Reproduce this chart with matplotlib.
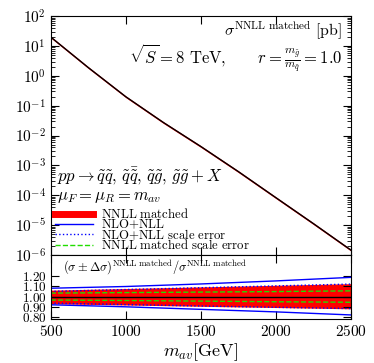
import numpy as np
import matplotlib
matplotlib.use('Agg')
import matplotlib.pyplot as plt
from matplotlib.lines import Line2D
from matplotlib.ticker import FuncFormatter, FixedLocator, LogLocator

plt.rcParams['mathtext.fontset'] = 'cm'
plt.rcParams['font.family'] = 'DejaVu Serif'

# cross section (pb)
m_av = [500, 750, 1000, 1250, 1500, 1750, 2000, 2250, 2500]
sigma = [20, 1.9, 0.20, 0.0275, 0.0043, 6.2e-4, 8.3e-5, 1.12e-5, 1.45e-6]

# ratio panel
m_r = [500, 1000, 1500, 2000, 2500]
red_hi = [1.064, 1.080, 1.096, 1.112, 1.128]
red_lo = [0.930, 0.918, 0.905, 0.893, 0.880]
dot_hi = [1.052, 1.070, 1.088, 1.106, 1.124]
dot_lo = [0.936, 0.922, 0.908, 0.895, 0.883]
grn_hi = [1.035, 1.040, 1.045, 1.050, 1.057]
grn_lo = [0.967, 0.962, 0.956, 0.950, 0.945]
blu_hi = [1.083, 1.100, 1.125, 1.155, 1.190]
blu_lo = [0.920, 0.900, 0.875, 0.850, 0.820]

fig = plt.figure(figsize=(3.74, 3.63), dpi=100)
ax = fig.add_axes([0.1356, 0.2975, 0.803, 0.658])
axr = fig.add_axes([0.1356, 0.1212, 0.803, 0.1763], sharex=ax)

s = np.array(sigma)
ax.fill_between(m_av, s * 0.93, s * 1.07, color='red', lw=0)
ax.plot(m_av, s, color='black', lw=1)
ax.set_yscale('log')
ax.set_xlim(500, 2500)
ax.set_ylim(1e-6, 1e2)
ax.yaxis.set_major_locator(LogLocator(base=10, numticks=20))
ax.yaxis.set_minor_locator(LogLocator(base=10, subs=np.arange(2, 10), numticks=20))
ax.yaxis.set_major_formatter(FuncFormatter(lambda v, p: r'$10^{%d}$' % round(np.log10(v))))
ax.tick_params(which='both', direction='in', top=True, right=True, labelbottom=False, labelsize=11)
ax.tick_params(which='major', length=6)
ax.tick_params(which='minor', length=3)

ax.text(0.97, 0.94, r'$\sigma^{\rm NNLL\ matched}\ [\mathrm{pb}]$', transform=ax.transAxes,
        ha='right', va='center', fontsize=11.5)
ax.text(0.97, 0.82, r'$\sqrt{S} = 8\ \mathrm{TeV},\qquad r = \frac{m_{\tilde g}}{m_{\tilde q}} = 1.0$',
        transform=ax.transAxes, ha='right', va='center', fontsize=12)
ax.text(0.02, 0.33, r'$pp \to \tilde q\tilde q,\, \tilde q\bar{\tilde q},\, \tilde q\tilde g,\, \tilde g\tilde g + X$',
        transform=ax.transAxes, ha='left', va='center', fontsize=12)
ax.text(0.02, 0.245, r'$\mu_F = \mu_R = m_{av}$', transform=ax.transAxes,
        ha='left', va='center', fontsize=12)

handles = [Line2D([], [], color='red', lw=5),
           Line2D([], [], color='blue', lw=1),
           Line2D([], [], color='blue', lw=1, ls=':'),
           Line2D([], [], color='#22dd00', lw=1, ls='--')]
labels = [r'$\mathrm{NNLL\ matched}$', r'$\mathrm{NLO{+}NLL}$',
          r'$\mathrm{NLO{+}NLL\ scale\ error}$', r'$\mathrm{NNLL\ matched\ scale\ error}$']
ax.legend(handles, labels, loc='upper left', bbox_to_anchor=(0.0, 0.215), frameon=False,
          fontsize=9.2, handlelength=3.0, labelspacing=-0.3, borderaxespad=0.0,
          borderpad=0.3, handletextpad=0.6)

axr.fill_between(m_r, red_lo, red_hi, color='red', lw=0)
axr.plot(m_r, blu_hi, color='blue', lw=1)
axr.plot(m_r, blu_lo, color='blue', lw=1)
axr.plot(m_r, dot_hi, color='blue', lw=1, ls=':')
axr.plot(m_r, dot_lo, color='blue', lw=1, ls=':')
axr.plot(m_r, grn_hi, color='#22dd00', lw=1, ls='--')
axr.plot(m_r, grn_lo, color='#22dd00', lw=1, ls='--')
axr.axhline(1.0, color='black', lw=1)
axr.set_ylim(0.78, 1.41)
axr.yaxis.set_major_locator(FixedLocator([0.8, 0.9, 1.0, 1.1, 1.2]))
axr.yaxis.set_major_formatter(FuncFormatter(lambda v, p: r'$%.2f$' % v))
axr.xaxis.set_major_locator(FixedLocator([500, 1000, 1500, 2000, 2500]))
axr.xaxis.set_major_formatter(FuncFormatter(lambda v, p: r'$%d$' % v))
axr.tick_params(which='both', direction='in', top=True, right=True)
axr.tick_params(axis='y', length=6, pad=3, labelsize=9.5)
axr.tick_params(axis='x', length=6, labelsize=11)
axr.text(0.04, 0.8, r'$(\sigma \pm \Delta\sigma)^{\rm NNLL\ matched}/\sigma^{\rm NNLL\ matched}$',
         transform=axr.transAxes, ha='left', va='center', fontsize=9)
axr.set_xlabel(r'$m_{av} [\mathrm{GeV}]$', fontsize=13, labelpad=2)

fig.savefig('out.png', dpi=100)
